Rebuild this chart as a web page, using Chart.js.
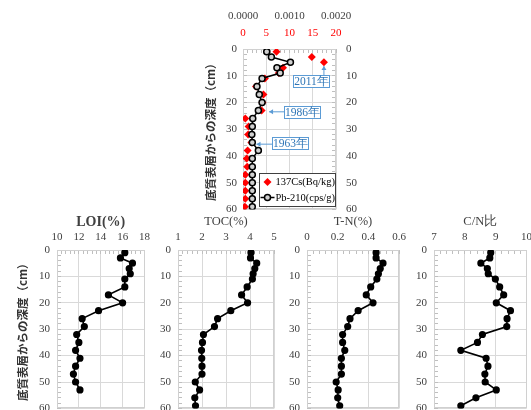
<!DOCTYPE html>
<html>
<head>
<meta charset="utf-8">
<script src="https://cdn.jsdelivr.net/npm/chart.js@4.4.1/dist/chart.umd.min.js"></script>
<style>
  html, body { margin: 0; padding: 0; background: #fff; width: 531px; height: 410px; overflow: hidden; }
  canvas { position: absolute; }
</style>
</head>
<body>
<canvas id="cTop" width="186" height="230" style="left:190px;top:0px"></canvas>
<canvas id="cLoi" width="160" height="221" style="left:0px;top:205px"></canvas>
<canvas id="cToc" width="151" height="221" style="left:138px;top:205px"></canvas>
<canvas id="cTn" width="149" height="221" style="left:267px;top:205px"></canvas>
<canvas id="cCn" width="148" height="221" style="left:394px;top:205px"></canvas>
<script>
// sample depths (cm) and measured values
const depth = [1, 3, 5, 7, 9, 11, 14, 17, 20, 23, 26, 29, 32, 35, 38, 41, 44, 47, 50, 53, 56, 59];
const cs137 = [7.2, 14.8, 17.4, 8.6, 7.7, 4.7, 2.8, 4.4, 4.2, 4.0, 0.5, 1.2, 1.1, 1.8, 1.0, 0.8, 0.9, 0.5, 0.5, 0.5, 0.5, 0.4];
const pb210 = [0.00051, 0.00061, 0.00102, 0.00073, 0.0008, 0.00041, 0.0003, 0.00035, 0.00041, 0.00033, 0.00021,
  0.0002, 0.00019, 0.0002, 0.00033, 0.0002, 0.0002, 0.0002, 0.0002, 0.0002, 0.0002, 0.0002];
const loi = [16.2, 15.8, 16.9, 16.6, 16.7, 16.2, 16.2, 14.7, 16.0, 13.8, 12.3, 12.5, 11.8, 12.0, 11.7, 12.1, 11.7, 11.5, 11.7, 12.1];
const toc = [4.04, 4.02, 4.28, 4.2, 4.13, 4.1, 3.88, 3.65, 3.9, 3.2, 2.65, 2.52, 2.06, 2.02, 1.98, 1.99, 2.0, 2.0, 1.72, 1.9, 1.7, 1.73];
const tn = [0.45, 0.45, 0.495, 0.477, 0.465, 0.455, 0.415, 0.386, 0.43, 0.333, 0.28, 0.265, 0.232, 0.232, 0.246, 0.224,
  0.224, 0.224, 0.19, 0.203, 0.2, 0.213];
const cn = [8.84, 8.81, 8.52, 8.73, 8.76, 8.99, 9.13, 9.26, 9.02, 9.48, 9.37, 9.36, 8.57, 8.41, 7.87, 8.69, 8.75, 8.65,
  8.66, 9.02, 8.36, 7.87];

// tick labels
const depthTicks = [0, 10, 20, 30, 40, 50, 60];
const csTicks = [0, 5, 10, 15, 20];
const pbTicks = [0, 0.001, 0.002];
const loiTicks = [10, 12, 14, 16, 18];
const tocTicks = [1, 2, 3, 4, 5];
const tnTicks = [0, 0.2, 0.4, 0.6];
const cnTicks = [7, 8, 9, 10];

const yTitle = "底質表層からの深度（cm）";
const gridCol = "#d9d9d9";
const tickCol = "#bfbfbf";
const labelCol = "#404040";
const tickFont = { family: "'Liberation Serif', serif", size: 11 };

function matchTick(v, list) {
  const tol = (list[list.length - 1] - list[0]) * 1e-6;
  return list.find(t => Math.abs(t - v) < tol);
}

function toPoints(vals) {
  return vals.map((v, i) => ({ x: v, y: depth[i] }));
}

// depth axis, reversed, minor ticks every 2 cm
function depthAxis(pos, width, pad, titlePad) {
  return {
    type: "linear", position: pos, reverse: true, min: 0, max: 60,
    afterFit: s => { s.width = width; },
    border: { display: false },
    grid: {
      drawOnChartArea: pos === "left",
      color: c => (c.tick && matchTick(c.tick.value, depthTicks) !== undefined ? gridCol : "rgba(0,0,0,0)"),
      tickColor: tickCol, tickLength: -4
    },
    ticks: {
      stepSize: 2, autoSkip: false, padding: pad, color: labelCol, font: tickFont,
      callback: v => { const t = matchTick(v, depthTicks); return t === undefined ? "" : String(t); }
    },
    title: titlePad == null ? { display: false } : {
      display: true, text: yTitle, color: "#333", padding: { top: titlePad, bottom: 0 },
      font: { family: "'Noto Sans CJK JP', sans-serif", size: 11.5, weight: "bold" }
    }
  };
}

// value axis on top, minor ticks = major / 5
function valueAxis(ticks, fmt, opts) {
  const major = ticks[1] - ticks[0];
  const withGrid = opts.grid !== false;
  return {
    type: "linear", position: "top", weight: opts.weight || 0,
    min: ticks[0], max: ticks[ticks.length - 1],
    afterFit: s => { s.height = opts.height; },
    border: { display: false },
    grid: withGrid ? {
      color: c => (c.tick && matchTick(c.tick.value, ticks) !== undefined ? gridCol : "rgba(0,0,0,0)"),
      tickColor: tickCol, tickLength: -4
    } : { display: false, drawTicks: false },
    ticks: {
      stepSize: withGrid ? major / 5 : major, autoSkip: false, maxRotation: 0,
      padding: opts.pad, color: opts.color || labelCol, font: tickFont,
      callback: v => { const t = matchTick(v, ticks); return t === undefined ? "" : fmt(t); }
    },
    title: opts.title ? {
      display: true, text: opts.title, color: labelCol, padding: { top: opts.titleTop, bottom: 0 },
      font: opts.titleFont
    } : { display: false }
  };
}

const frame = {
  id: "frame",
  beforeDatasetsDraw(chart) {
    const { ctx, chartArea: a } = chart;
    ctx.save();
    ctx.strokeStyle = "#d0d0d0";
    ctx.lineWidth = 1;
    ctx.strokeRect(Math.round(a.left) + 0.5, Math.round(a.top) + 0.5, Math.round(a.width) - 1, Math.round(a.height) - 1);
    ctx.restore();
  }
};

// year callouts, in (Cs value, depth) coordinates
const notes = [
  { text: "2011年", tip: [17.4, 6.4], at: [14.6, 12.1] },
  { text: "1986年", tip: [5.6, 23.5], at: [12.6, 23.6] },
  { text: "1963年", tip: [2.9, 35.6], at: [10.1, 35.3] }
];

const callouts = {
  id: "callouts",
  afterDatasetsDraw(chart) {
    const { ctx } = chart;
    const sx = chart.scales.x2, sy = chart.scales.y;
    const blue = "#5b9bd5";
    ctx.save();
    ctx.font = "11.5px 'Liberation Serif', serif";
    notes.forEach(n => {
      const cx = sx.getPixelForValue(n.at[0]), cy = sy.getPixelForValue(n.at[1]);
      const tx = sx.getPixelForValue(n.tip[0]), ty = sy.getPixelForValue(n.tip[1]);
      const w = 36, h = 12;
      const bx = Math.round(cx - w / 2) + 0.5, by = Math.round(cy - h / 2) + 0.5;
      // arrow
      let sxp, syp;
      if (Math.abs(ty - cy) > Math.abs(tx - cx)) { sxp = tx; syp = ty < cy ? by : by + h; }
      else { sxp = tx < cx ? bx : bx + w; syp = ty; }
      ctx.strokeStyle = blue; ctx.fillStyle = blue; ctx.lineWidth = 1;
      ctx.beginPath(); ctx.moveTo(sxp, syp); ctx.lineTo(tx, ty); ctx.stroke();
      const ang = Math.atan2(ty - syp, tx - sxp);
      ctx.beginPath();
      ctx.moveTo(tx, ty);
      ctx.lineTo(tx - 4 * Math.cos(ang) + 2.5 * Math.sin(ang), ty - 4 * Math.sin(ang) - 2.5 * Math.cos(ang));
      ctx.lineTo(tx - 4 * Math.cos(ang) - 2.5 * Math.sin(ang), ty - 4 * Math.sin(ang) + 2.5 * Math.cos(ang));
      ctx.closePath(); ctx.fill();
      // box
      ctx.fillStyle = "#fff"; ctx.fillRect(bx, by, w, h);
      ctx.strokeRect(bx, by, w, h);
      ctx.fillStyle = "#2e75b6"; ctx.textAlign = "center"; ctx.textBaseline = "middle";
      ctx.fillText(n.text, bx + w / 2, by + h / 2 + 0.5);
    });
    ctx.restore();
  }
};

const legendBox = {
  id: "legendBox",
  afterDraw(chart) {
    const { ctx, chartArea: a } = chart;
    const ds = chart.data.datasets;
    const w = 76, h = 33;
    const x = Math.round(a.right - w - 1) + 0.5, y = Math.round(a.bottom - h - 3) + 0.5;
    ctx.save();
    ctx.fillStyle = "#fff"; ctx.fillRect(x, y, w, h);
    ctx.strokeStyle = "#404040"; ctx.lineWidth = 1; ctx.strokeRect(x, y, w, h);
    ctx.font = "10.5px 'Liberation Serif', serif";
    ctx.textBaseline = "middle"; ctx.textAlign = "left";
    // Cs row
    let ry = y + 8.5;
    ctx.fillStyle = "#ff0000";
    ctx.beginPath();
    ctx.moveTo(x + 8, ry - 4); ctx.lineTo(x + 12, ry); ctx.lineTo(x + 8, ry + 4); ctx.lineTo(x + 4, ry);
    ctx.closePath(); ctx.fill();
    ctx.fillStyle = "#000"; ctx.fillText(ds[0].label, x + 16, ry + 0.5);
    // Pb row
    ry = y + 24;
    ctx.strokeStyle = "#000"; ctx.lineWidth = 1.5;
    ctx.beginPath(); ctx.moveTo(x + 1, ry); ctx.lineTo(x + 15, ry); ctx.stroke();
    ctx.fillStyle = "#d0d0d0"; ctx.lineWidth = 1.5;
    ctx.beginPath(); ctx.arc(x + 8, ry, 3, 0, Math.PI * 2); ctx.fill(); ctx.stroke();
    ctx.fillStyle = "#000"; ctx.fillText(ds[1].label, x + 16, ry + 0.5);
    ctx.restore();
  }
};

// top: 137Cs and Pb-210 profile
new Chart(document.getElementById("cTop"), {
  type: "scatter",
  data: {
    datasets: [
      {
        label: "137Cs(Bq/kg)", data: toPoints(cs137), xAxisID: "x2", yAxisID: "y", order: 1,
        pointStyle: "rectRot", pointRadius: 4, pointBackgroundColor: "#ff0000", pointBorderColor: "#ff0000", pointBorderWidth: 0
      },
      {
        label: "Pb-210(cps/g)", data: toPoints(pb210), xAxisID: "x", yAxisID: "y", order: 0, showLine: true,
        borderColor: "#000", borderWidth: 1.5, pointRadius: 3, pointBorderWidth: 1.5,
        pointBackgroundColor: "#d0d0d0", pointBorderColor: "#000"
      }
    ]
  },
  options: {
    responsive: false, animation: false,
    layout: { padding: 0 },
    plugins: { legend: { display: false }, tooltip: { enabled: false } },
    scales: {
      x: valueAxis(pbTicks, v => v.toFixed(4), { height: 25, pad: 2, grid: false, weight: 2 }),
      x2: valueAxis(csTicks, v => String(v), { height: 24, pad: 13, color: "#ff0000", weight: 1 }),
      y: depthAxis("left", 53, 10, 14),
      y2: depthAxis("right", 40, 14, null)
    }
  },
  plugins: [frame, callouts, legendBox]
});

// bottom panels
function panel(id, vals, ticks, fmt, title, titleFont, yWidth, showTitle) {
  new Chart(document.getElementById(id), {
    type: "scatter",
    data: {
      datasets: [{
        label: title, data: toPoints(vals), showLine: true,
        borderColor: "#000", borderWidth: 1.6, pointRadius: 2.8,
        pointBackgroundColor: "#000", pointBorderColor: "#000"
      }]
    },
    options: {
      responsive: false, animation: false,
      layout: { padding: { right: 15 } },
      plugins: { legend: { display: false }, tooltip: { enabled: false } },
      scales: {
        x: valueAxis(ticks, fmt, { height: 45, pad: 10, title: title, titleTop: 9, titleFont: titleFont }),
        y: depthAxis("left", yWidth, 11, showTitle ? 16 : null)
      }
    },
    plugins: [frame]
  });
}

const serifTitle = { family: "'Liberation Serif', serif", size: 12.5 };
panel("cLoi", loi, loiTicks, v => String(v), "LOI(%)", { family: "'Liberation Serif', serif", size: 14, weight: "bold" }, 57, true);
panel("cToc", toc, tocTicks, v => String(v), "TOC(%)", serifTitle, 40, false);
panel("cTn", tn, tnTicks, v => String(v), "T-N(%)", serifTitle, 40, false);
panel("cCn", cn, cnTicks, v => String(v), "C/N比", serifTitle, 40, false);
</script>
</body>
</html>
